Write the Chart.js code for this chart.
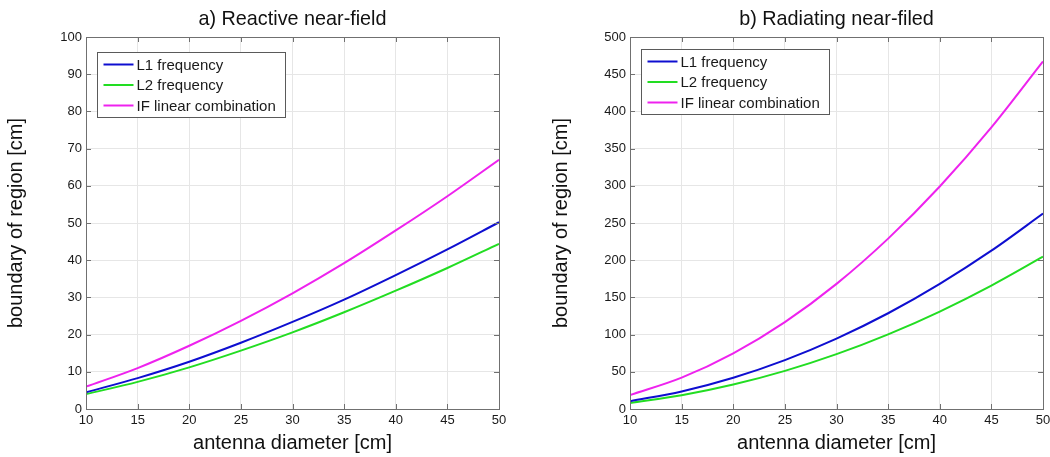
<!DOCTYPE html>
<html>
<head>
<meta charset="utf-8">
<title>Near-field boundaries</title>
<script src="https://cdn.jsdelivr.net/npm/chart.js@4.4.0/dist/chart.umd.min.js"></script>
<style>
  html, body { margin: 0; padding: 0; background: #fff; overflow: hidden; }
  body { width: 1050px; height: 457px; position: relative; }
  canvas { position: absolute; top: 0; }
  #reactive { left: 0; }
  #radiating { left: 520px; }
</style>
</head>
<body>
<canvas id="reactive" width="525" height="457"></canvas>
<canvas id="radiating" width="540" height="457"></canvas>
<script>
// antenna diameter [cm]
const diameters = [10, 15, 20, 25, 30, 35, 40, 45, 50];

// a) reactive near-field boundary [cm]
const reactiveL1 = [4.5, 8.3, 12.7, 17.8, 23.4, 29.4, 36.0, 42.9, 50.2];
const reactiveL2 = [4.0, 7.3, 11.2, 15.7, 20.6, 26.0, 31.8, 37.9, 44.4];
const reactiveIF = [6.0, 11.0, 17.0, 23.7, 31.1, 39.2, 48.0, 57.2, 67.0];

// b) radiating near-field boundary [cm]
const radiatingL1 = [10.5, 23.6, 42.0, 65.7, 94.6, 128.7, 168.2, 212.8, 262.7];
const radiatingL2 = [8.2, 18.4, 32.8, 51.2, 73.7, 100.3, 131.0, 165.9, 204.7];
const radiatingIF = [18.7, 42.1, 74.8, 116.8, 168.2, 229.0, 299.1, 378.5, 467.2];

const seriesNames = ['L1 frequency', 'L2 frequency', 'IF linear combination'];
const seriesColors = ['#0e0ed0', '#22dd22', '#ee22ee'];

const FONT = '"Liberation Sans", Arial, Helvetica, sans-serif';
Chart.defaults.font.family = FONT;
Chart.defaults.color = '#1a1a1a';

// box around the axes with short inward ticks on all four sides
const axesBox = {
  id: 'axesBox',
  afterDatasetsDraw(chart) {
    const { ctx, chartArea: a, scales: { x, y } } = chart;
    const len = 5;
    ctx.save();
    ctx.strokeStyle = '#707070';
    ctx.lineWidth = 1;
    ctx.beginPath();
    x.ticks.forEach(t => {
      const px = Math.round(x.getPixelForValue(t.value)) + 0.5;
      ctx.moveTo(px, a.bottom); ctx.lineTo(px, a.bottom - len);
      ctx.moveTo(px, a.top); ctx.lineTo(px, a.top + len);
    });
    y.ticks.forEach(t => {
      const py = Math.round(y.getPixelForValue(t.value)) + 0.5;
      ctx.moveTo(a.left, py); ctx.lineTo(a.left + len, py);
      ctx.moveTo(a.right, py); ctx.lineTo(a.right - len, py);
    });
    ctx.stroke();
    ctx.strokeRect(Math.round(a.left) + 0.5, Math.round(a.top) + 0.5,
                   Math.round(a.width), Math.round(a.height));
    ctx.restore();
  }
};

// framed legend inside the upper-left corner of the axes
const boxLegend = {
  id: 'boxLegend',
  afterDraw(chart, args, opts) {
    const { ctx, chartArea: a } = chart;
    const sets = chart.data.datasets;
    ctx.save();
    ctx.font = `15px ${FONT}`;
    const textW = Math.max(...sets.map(d => ctx.measureText(d.label).width));
    const row = 20.5;
    const x0 = Math.round(a.left + opts.dx) + 0.5;
    const y0 = Math.round(a.top + opts.dy) + 0.5;
    const w = Math.round(39 + textW + 10);
    const h = Math.round(24 + (sets.length - 1) * row);
    ctx.fillStyle = '#fff';
    ctx.fillRect(x0, y0, w, h);
    ctx.strokeStyle = '#5a5a5a';
    ctx.lineWidth = 1;
    ctx.strokeRect(x0, y0, w, h);
    ctx.textBaseline = 'middle';
    sets.forEach((d, i) => {
      const cy = y0 + 12 + i * row;
      ctx.strokeStyle = d.borderColor;
      ctx.lineWidth = 2;
      ctx.beginPath();
      ctx.moveTo(x0 + 6, cy);
      ctx.lineTo(x0 + 36, cy);
      ctx.stroke();
      ctx.fillStyle = '#1a1a1a';
      ctx.fillText(d.label, x0 + 39, cy + 1);
    });
    ctx.restore();
  }
};

function series(values) {
  return diameters.map((d, i) => ({ x: d, y: values[i] }));
}

function makeChart(id, title, columns, yMax, yStep, box) {
  return new Chart(document.getElementById(id), {
    type: 'line',
    data: {
      datasets: columns.map((values, i) => ({
        label: seriesNames[i],
        data: series(values),
        borderColor: seriesColors[i],
        borderWidth: 2,
        pointRadius: 0,
        fill: false,
        cubicInterpolationMode: 'monotone'
      }))
    },
    options: {
      responsive: false,
      animation: false,
      layout: { padding: { left: box.padLeft, right: box.padRight, top: 0, bottom: 0 } },
      plugins: {
        legend: { display: false },
        tooltip: { enabled: false },
        title: {
          display: true,
          text: title,
          fullSize: false,
          color: '#111',
          font: { size: 19.8, weight: 'normal', lineHeight: 1.2 },
          padding: { top: 7.2, bottom: 6.04 }
        },
        boxLegend: { dx: box.legendX, dy: box.legendY }
      },
      scales: {
        x: {
          type: 'linear',
          min: 10,
          max: 50,
          ticks: { stepSize: 5, padding: 4, font: { size: 13 }, color: '#1a1a1a', maxRotation: 0 },
          grid: { color: '#e6e6e6', drawTicks: false },
          border: { display: false },
          title: {
            display: true,
            text: 'antenna diameter [cm]',
            color: '#111',
            font: { size: 20, lineHeight: 1.2 },
            padding: { top: 0, bottom: 2 }
          },
          afterFit(scale) { scale.height = 48; }
        },
        y: {
          type: 'linear',
          min: 0,
          max: yMax,
          ticks: { stepSize: yStep, padding: 4, font: { size: 13 }, color: '#1a1a1a' },
          grid: { color: '#e6e6e6', drawTicks: false },
          border: { display: false },
          title: {
            display: true,
            text: 'boundary of region [cm]',
            color: '#111',
            font: { size: 20, lineHeight: 1.2 },
            padding: { top: 4, bottom: 0 }
          },
          afterFit(scale) { scale.width = box.yWidth; }
        }
      }
    },
    plugins: [axesBox, boxLegend]
  });
}

makeChart('reactive', 'a) Reactive near-field',
  [reactiveL1, reactiveL2, reactiveIF], 100, 10,
  { padLeft: 0, padRight: 26, yWidth: 86, legendX: 11, legendY: 15 });

makeChart('radiating', 'b) Radiating near-filed',
  [radiatingL1, radiatingL2, radiatingIF], 500, 50,
  { padLeft: 25, padRight: 17, yWidth: 85, legendX: 11, legendY: 12 });
</script>
</body>
</html>
